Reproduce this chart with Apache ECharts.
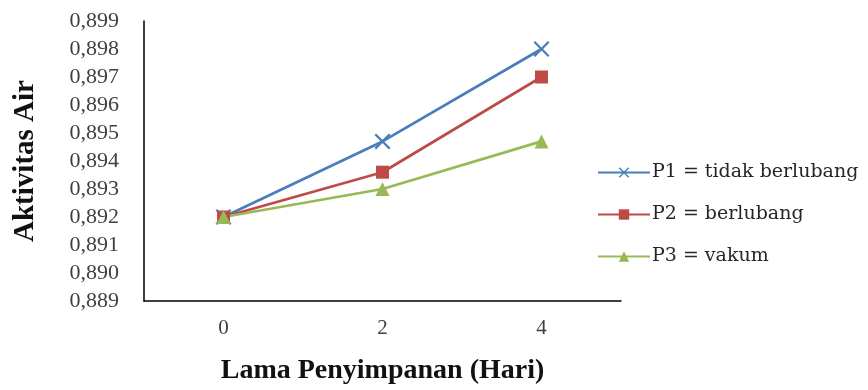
<!DOCTYPE html>
<html>
<head>
<meta charset="utf-8">
<script src="https://cdn.jsdelivr.net/npm/echarts@6/dist/echarts.min.js"></script>
<style>
  html, body { margin: 0; padding: 0; background: #ffffff; }
  #chart { width: 868px; height: 390px; }
</style>
</head>
<body>
<div id="chart"></div>
<script>
// Storage days on the x axis
const days = ['0', '2', '4'];

// Water activity per packaging treatment
const p1 = [0.892, 0.8947, 0.898];
const p2 = [0.892, 0.8936, 0.897];
const p3 = [0.892, 0.893, 0.8947];

const seriesNames = ['P1 = tidak berlubang', 'P2 = berlubang', 'P3 = vakum'];

const yMin = 0.889;
const yMax = 0.899;
const yStep = 0.001;

const serif = '"Liberation Serif", "Times New Roman", serif';
const legendSerif = '"DejaVu Serif", serif';
const crossPath = 'path://M0,1L1,0L5,4L9,0L10,1L6,5L10,9L9,10L5,6L1,10L0,9L4,5Z';

const chart = echarts.init(document.getElementById('chart'), null, { renderer: 'canvas' });

chart.setOption({
  animation: false,
  backgroundColor: '#ffffff',
  grid: { left: 144, top: 21, right: 247, bottom: 85, containLabel: false },
  legend: {
    orient: 'vertical',
    left: 592,
    top: 158,
    itemWidth: 52,
    itemHeight: 13,
    itemGap: 23,
    textStyle: { fontFamily: legendSerif, fontSize: 19, color: '#262626', padding: [0, 0, 0, -3] },
    data: seriesNames
  },
  xAxis: {
    type: 'category',
    data: days,
    boundaryGap: true,
    name: 'Lama Penyimpanan (Hari)',
    nameLocation: 'middle',
    nameGap: 56,
    nameTextStyle: { fontFamily: serif, fontSize: 28, fontWeight: 'bold', color: '#111' },
    axisLine: { lineStyle: { color: '#000', width: 1.5 } },
    axisTick: { show: false },
    axisLabel: { fontFamily: serif, fontSize: 21, color: '#404040', margin: 17 },
    splitLine: { show: false }
  },
  yAxis: {
    type: 'value',
    min: yMin,
    max: yMax,
    interval: yStep,
    name: 'Aktivitas Air',
    nameLocation: 'middle',
    nameGap: 104,
    nameTextStyle: { fontFamily: serif, fontSize: 29, fontWeight: 'bold', color: '#111' },
    axisLine: { show: true, lineStyle: { color: '#000', width: 1.5 } },
    axisTick: { show: false },
    axisLabel: {
      fontFamily: serif, fontSize: 22, color: '#404040', margin: 25,
      formatter: v => v.toFixed(3).replace('.', ',')
    },
    splitLine: { show: false }
  },
  series: [
    {
      name: seriesNames[0], type: 'line', data: p1,
      symbol: crossPath, symbolSize: 16,
      lineStyle: { color: '#4A7EBB', width: 2.75 },
      itemStyle: { color: '#4A7EBB' }
    },
    {
      name: seriesNames[1], type: 'line', data: p2,
      symbol: 'rect', symbolSize: 13,
      lineStyle: { color: '#BE4B48', width: 2.75 },
      itemStyle: { color: '#BE4B48' }
    },
    {
      name: seriesNames[2], type: 'line', data: p3,
      symbol: 'triangle', symbolSize: 14,
      lineStyle: { color: '#98B954', width: 2.75 },
      itemStyle: { color: '#98B954' }
    }
  ]
});
</script>
</body>
</html>
